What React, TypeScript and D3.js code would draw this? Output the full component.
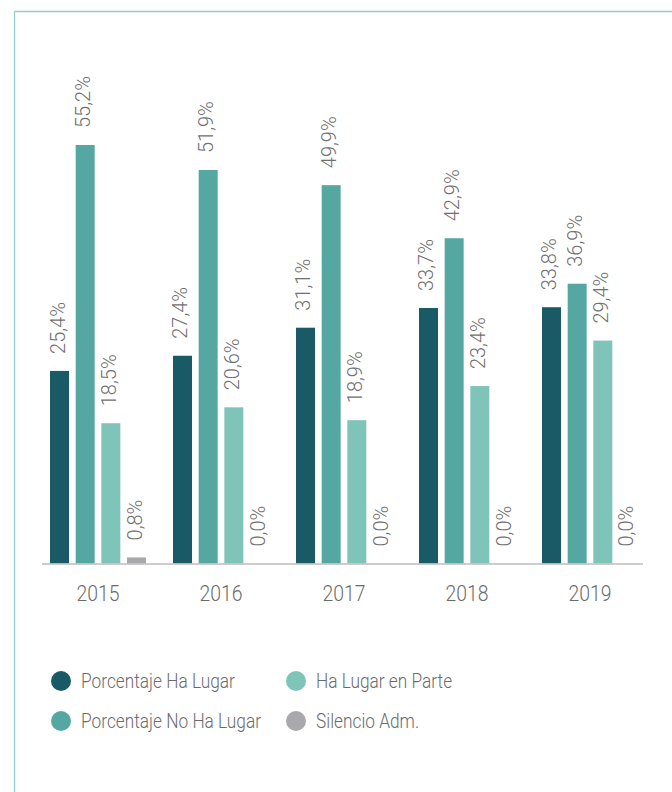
import React from 'react';
import * as d3 from 'd3';

const years = ['2015', '2016', '2017', '2018', '2019'];
const haLugar = [25.4, 27.4, 31.1, 33.7, 33.8];
const noHaLugar = [55.2, 51.9, 49.9, 42.9, 36.9];
const enParte = [18.5, 20.6, 18.9, 23.4, 29.4];
const silencio = [0.8, 0.0, 0.0, 0.0, 0.0];

const seriesNames = ['Porcentaje Ha Lugar', 'Porcentaje No Ha Lugar', 'Ha Lugar en Parte', 'Silencio Adm.'];
const seriesValues = [haLugar, noHaLugar, enParte, silencio];
const seriesColors = ['#1a5a66', '#55a7a2', '#7fc4b9', '#a9a9ac'];

const W = 672;
const H = 792;
const baseY = 563.5;

export default function App() {
  const x0 = d3.scaleBand<string>().domain(years).range([36.5, 651.5]).paddingInner(0.2195).paddingOuter(0.1098);
  const x1 = d3.scaleBand<string>().domain(seriesNames).range([0, x0.bandwidth()]).paddingInner(0.26).paddingOuter(0);
  const y = d3.scaleLinear().domain([0, 60]).range([baseY, baseY - 60 * 7.582]);
  const fmt = (v: number) => v.toFixed(1).replace('.', ',') + '%';

  const legendOrder = [
    { i: 0, col: 0, row: 0 },
    { i: 2, col: 1, row: 0 },
    { i: 1, col: 0, row: 1 },
    { i: 3, col: 1, row: 1 },
  ];
  const legendCols = [61, 296];
  const legendRows = [681, 721];

  return (
    <svg width={W} height={H} style={{ position: 'absolute', left: 0, top: 0, background: '#fff' }}
      fontFamily="Roboto, 'Noto Sans', sans-serif">
      {/* frame */}
      <line x1={14.5} y1={11.5} x2={W} y2={11.5} stroke="#93cfc9" strokeWidth={1.3} />
      <line x1={14.5} y1={11.5} x2={14.5} y2={H} stroke="#93cfc9" strokeWidth={1.3} />

      {/* bars */}
      {years.map((yr, gi) => (
        <g key={yr} transform={`translate(${x0(yr)},0)`}>
          {seriesNames.map((s, si) => {
            const v = seriesValues[si][gi];
            const bx = x1(s)!;
            const bw = x1.bandwidth();
            const top = y(v);
            const cx = bx + bw / 2;
            return (
              <g key={s}>
                {v > 0 && <rect x={bx} y={top} width={bw} height={baseY - top} fill={seriesColors[si]} />}
                <text
                  transform={`translate(${cx},${top - 17}) rotate(-90)`}
                  dy="0.25em"
                  fontSize={20}
                  fontWeight={300}
                  fill="#707070"
                  textAnchor="start"
                >
                  {fmt(v)}
                </text>
              </g>
            );
          })}
        </g>
      ))}

      {/* axis */}
      <line x1={42} y1={baseY + 0.5} x2={643} y2={baseY + 0.5} stroke="#bdbdbd" strokeWidth={1.6} />
      {years.map((yr) => (
        <text
          key={yr}
          transform={`translate(${x0(yr)! + x0.bandwidth() / 2},600.5) scale(0.88,1)`}
          textAnchor="middle"
          fontSize={22}
          fontWeight={300}
          fill="#6b6b6b"
        >
          {yr}
        </text>
      ))}

      {/* legend */}
      {legendOrder.map(({ i, col, row }) => (
        <g key={i}>
          <circle cx={legendCols[col]} cy={legendRows[row]} r={10} fill={seriesColors[i]} />
          <text
            transform={`translate(${legendCols[col] + 20},${legendRows[row] + 6.5}) scale(0.865,1)`}
            fontSize={20}
            fontWeight={300}
            fill="#6b6b6b"
          >
            {seriesNames[i]}
          </text>
        </g>
      ))}
    </svg>
  );
}
